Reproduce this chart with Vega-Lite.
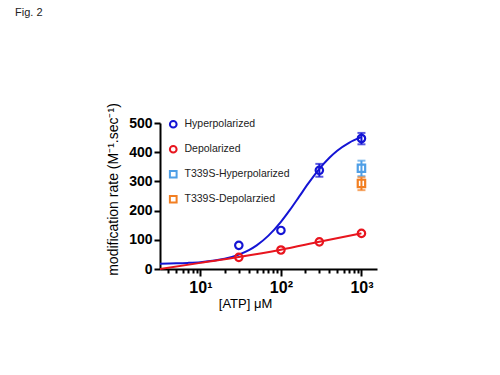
{
  "$schema": "https://vega.github.io/schema/vega-lite/v6.json",
  "width": 217,
  "height": 146,
  "autosize": {"type": "none"},
  "padding": {"left": 160, "top": 123, "right": 123, "bottom": 106},
  "background": "white",
  "title": {"text": "Fig. 2", "anchor": "start", "frame": "group", "dx": -145, "offset": 85, "fontSize": 11, "fontWeight": "normal", "font": "Liberation Sans", "color": "#222222"},
  "config": {
    "view": {"stroke": null},
    "font": "Liberation Sans",
    "axis": {"grid": false, "domainColor": "black", "domainWidth": 2, "tickColor": "black", "tickWidth": 2, "labelColor": "black", "titleColor": "black", "labelFont": "Liberation Sans", "titleFont": "Liberation Sans"},
    "legend": {"orient": "none", "legendX": 8, "legendY": -4, "title": null, "labelFontSize": 10.5, "labelColor": "#222222", "labelFont": "Liberation Sans", "rowPadding": 9, "symbolSize": 45, "symbolStrokeWidth": 2, "labelOffset": 6, "padding": 0}
  },
  "datasets": {
    "fitH": [
      {"x": 3.15, "y": 18.2}, {"x": 5, "y": 19.3}, {"x": 7, "y": 20.9}, {"x": 10, "y": 23.5},
      {"x": 15, "y": 28.9}, {"x": 20, "y": 35.0}, {"x": 30, "y": 49.1}, {"x": 40, "y": 64.6},
      {"x": 50, "y": 81.0}, {"x": 70, "y": 114.2}, {"x": 100, "y": 161.6}, {"x": 130, "y": 203.3},
      {"x": 170, "y": 249.5}, {"x": 220, "y": 293.9}, {"x": 300, "y": 343.0}, {"x": 400, "y": 381.1},
      {"x": 500, "y": 405.1}, {"x": 700, "y": 432.3}, {"x": 1000, "y": 451.5}
    ],
    "fitD": [
      {"x": 3.15, "y": 0}, {"x": 10, "y": 21}, {"x": 30, "y": 41}, {"x": 100, "y": 66}, {"x": 300, "y": 93}, {"x": 1000, "y": 122}
    ],
    "pts": [
      {"series": "Hyperpolarized", "x": 30, "y": 81},
      {"series": "Hyperpolarized", "x": 100, "y": 132},
      {"series": "Hyperpolarized", "x": 300, "y": 338},
      {"series": "Hyperpolarized", "x": 1000, "y": 447},
      {"series": "Depolarized", "x": 30, "y": 40},
      {"series": "Depolarized", "x": 100, "y": 65},
      {"series": "Depolarized", "x": 300, "y": 93},
      {"series": "Depolarized", "x": 1000, "y": 122},
      {"series": "T339S-Hyperpolarized", "x": 1000, "y": 345},
      {"series": "T339S-Depolarzied", "x": 1000, "y": 293}
    ],
    "err": [
      {"series": "Hyperpolarized", "x": 300, "lo": 316, "hi": 360},
      {"series": "Hyperpolarized", "x": 1000, "lo": 427, "hi": 466},
      {"series": "T339S-Hyperpolarized", "x": 1000, "lo": 318, "hi": 371},
      {"series": "T339S-Depolarzied", "x": 1000, "lo": 270, "hi": 314}
    ]
  },
  "encoding": {
    "x": {
      "field": "x", "type": "quantitative",
      "scale": {"type": "log", "domain": [3.15, 1560], "nice": false},
      "axis": {
        "values": [4,5,6,7,8,9,10,20,30,40,50,60,70,80,90,100,200,300,400,500,600,700,800,900,1000],
        "labelExpr": "datum.value == 10 ? '10¹' : datum.value == 100 ? '10²' : datum.value == 1000 ? '10³' : ''",
        "tickSize": {"condition": {"test": "datum.value == 10 || datum.value == 100 || datum.value == 1000", "value": 7}, "value": 4},
        "labelFontSize": 16, "labelFontWeight": "bold", "labelPadding": 3,
        "labelOverlap": false, "labelFlush": false,
        "title": "[ATP] μM", "titleFontSize": 13, "titleFontWeight": "normal", "titlePadding": 2,
        "titleX": 85, "titleAlign": "center"
      }
    },
    "y": {
      "field": "y", "type": "quantitative",
      "scale": {"domain": [0, 500], "nice": false},
      "axis": {
        "values": [0, 100, 200, 300, 400, 500],
        "tickSize": 6, "labelFontSize": 14, "labelFontWeight": "bold", "labelPadding": 2,
        "title": "modification rate (M⁻¹.sec⁻¹)", "titleFontSize": 14, "titleFontWeight": "normal",
        "titlePadding": 8, "titleY": 66
      }
    }
  },
  "layer": [
    {
      "data": {"name": "fitH"},
      "mark": {"type": "line", "color": "#1414d4", "strokeWidth": 2, "interpolate": "monotone"}
    },
    {
      "data": {"name": "fitD"},
      "mark": {"type": "line", "color": "#e8151e", "strokeWidth": 2, "interpolate": "monotone"}
    },
    {
      "data": {"name": "pts"},
      "mark": {"type": "point", "filled": false, "strokeWidth": 2.2, "size": 55, "opacity": 1},
      "encoding": {
        "color": {"field": "series", "type": "nominal",
          "scale": {"domain": ["Hyperpolarized", "Depolarized", "T339S-Hyperpolarized", "T339S-Depolarzied"], "range": ["#1414d4", "#e8151e", "#4f9fe6", "#f27f22"]}},
        "shape": {"field": "series", "type": "nominal",
          "scale": {"domain": ["Hyperpolarized", "Depolarized", "T339S-Hyperpolarized", "T339S-Depolarzied"], "range": ["circle", "circle", "square", "square"]}}
      }
    },
    {
      "data": {"name": "err"},
      "transform": [{"filter": "datum.series == 'Hyperpolarized'"}],
      "mark": {"type": "errorbar", "color": "#1414d4", "ticks": {"size": 8, "thickness": 2}, "thickness": 2},
      "encoding": {"y": {"field": "lo", "type": "quantitative"}, "y2": {"field": "hi"}}
    },
    {
      "data": {"name": "err"},
      "transform": [{"filter": "datum.series == 'T339S-Hyperpolarized'"}],
      "mark": {"type": "errorbar", "color": "#4f9fe6", "ticks": {"size": 8, "thickness": 2}, "thickness": 2},
      "encoding": {"y": {"field": "lo", "type": "quantitative"}, "y2": {"field": "hi"}}
    },
    {
      "data": {"name": "err"},
      "transform": [{"filter": "datum.series == 'T339S-Depolarzied'"}],
      "mark": {"type": "errorbar", "color": "#f27f22", "ticks": {"size": 8, "thickness": 2}, "thickness": 2},
      "encoding": {"y": {"field": "lo", "type": "quantitative"}, "y2": {"field": "hi"}}
    }
  ]
}
